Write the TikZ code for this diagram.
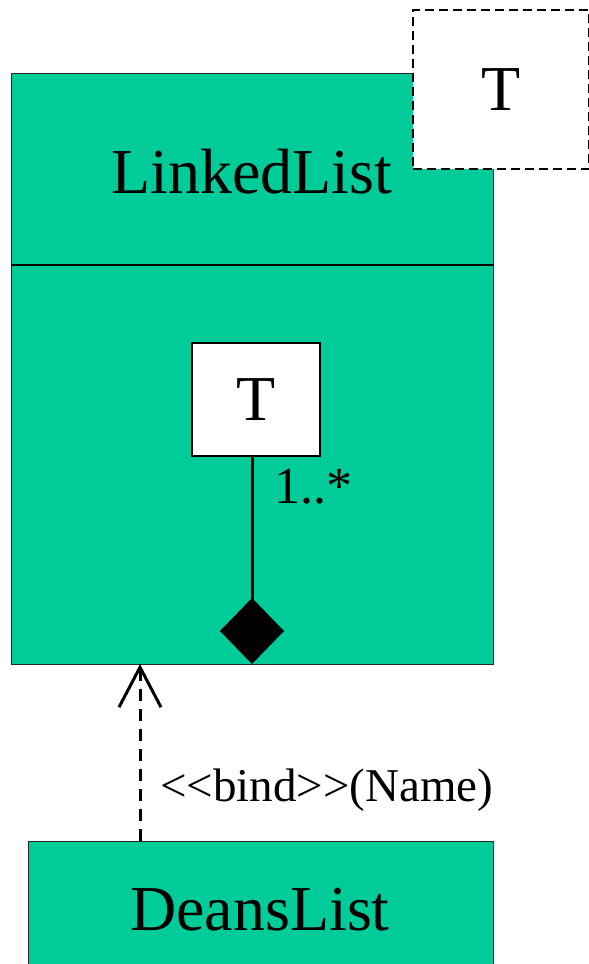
\documentclass[tikz,border=0pt]{standalone}
\usepackage{fontspec}
\setmainfont{Liberation Serif}
\usetikzlibrary{arrows.meta}
\definecolor{umlgreen}{RGB}{0,204,153}
\begin{document}
\begin{tikzpicture}[x=1pt,y=-1pt,
  classbox/.style={draw=black!85, line width=1pt, fill=umlgreen},
  parambox/.style={draw=black, line width=1.8pt, dash pattern=on 9pt off 5pt, fill=white},
  typebox/.style={draw=black, line width=2pt, fill=white},
  bigtext/.style={font=\fontsize{64}{64}\selectfont, inner sep=0pt},
  midtext/.style={font=\fontsize{52}{52}\selectfont, inner sep=0pt},
  smalltext/.style={font=\fontsize{47}{47}\selectfont, inner sep=0pt}]
\useasboundingbox (0,0) rectangle (589,964);
% LinkedList class
\path[classbox] (11,73) rectangle (493,664);
\draw[black, line width=1.5pt] (11,265) -- (493,265);
\node[bigtext] (ll) at (252,172) {LinkedList};
\coordinate (llbottom) at (252,664);
\coordinate (arrtip) at (140,664);
% template parameter
\node[parambox, minimum width=176pt, minimum height=159pt, anchor=north west] (tp) at (412,9) {};
\node[bigtext] (tpt) at (tp.center) {T};
% inner T part
\node[typebox, minimum width=128pt, minimum height=113pt, anchor=north west] (t) at (191,342) {};
\node[bigtext] (tt) at (t.center) {T};
\coordinate (tbot) at (252,455);
\draw[line width=3pt, -{Diamond[length=66pt,width=64pt]}] (tbot) -- (llbottom);
\node[midtext, anchor=base west] (mult) at (274,503) {1..*};
% DeansList
\path[classbox] (28,841) rectangle (493,975);
\node[bigtext] (dl) at (260,910) {DeansList};
\coordinate (dlfrom) at (140,841);
\draw[line width=3pt, dash pattern=on 12pt off 8pt, -{Straight Barb[length=40pt,width=42pt,line width=3pt]}] (dlfrom) -- (arrtip);
\node[smalltext, anchor=base west] (bind) at (160,801) {<{}<bind>{}>(Name)};
\end{tikzpicture}
\end{document}
